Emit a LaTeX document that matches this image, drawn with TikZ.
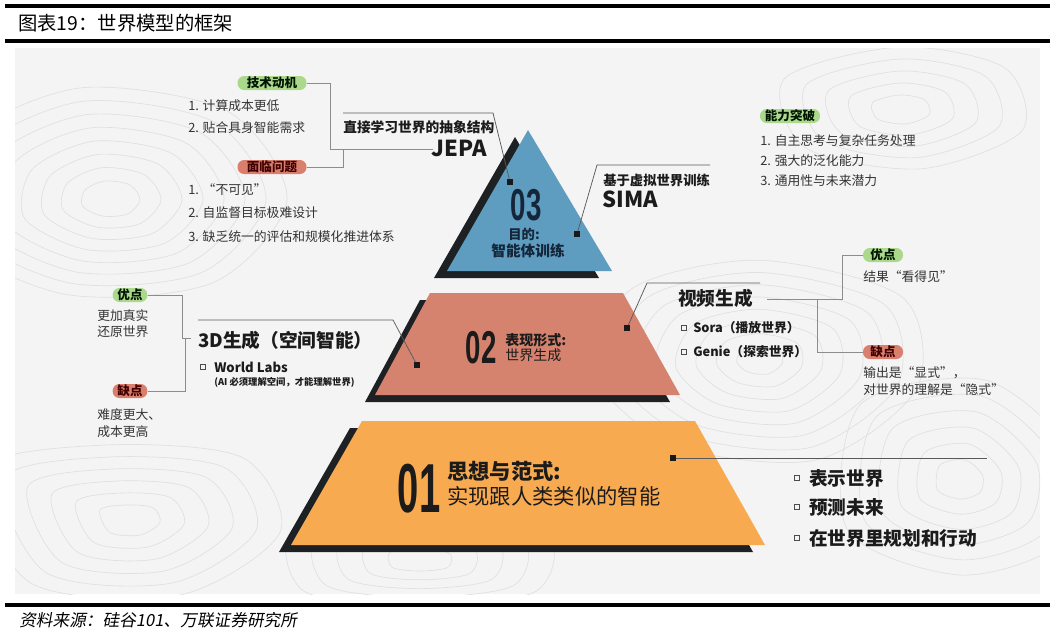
\documentclass[tikz,border=0pt]{standalone}
\usepackage{graphicx}
\usepackage{fontspec}
\setmainfont{Noto Sans CJK SC}
\newfontfamily\numfont{Liberation Sans}
\newfontfamily\slantcjk{Noto Sans CJK SC}[FakeSlant=0.18]
\usetikzlibrary{calc}
\newcommand\myfs[1]{\fontsize{#1}{#1}\selectfont}
\definecolor{bgpanel}{HTML}{F4F4F4}
\definecolor{contourc}{HTML}{E0E0E0}
\definecolor{shadowc}{HTML}{1E2124}
\definecolor{tierblue}{HTML}{5E9DC0}
\definecolor{tiersalmon}{HTML}{D5826F}
\definecolor{tierorange}{HTML}{F8AA50}
\definecolor{pillgreen}{HTML}{ABD98C}
\definecolor{pillred}{HTML}{DA7F6E}
\definecolor{linec}{HTML}{8C8C8C}
\definecolor{textc}{HTML}{333333}
\definecolor{navy}{HTML}{15263A}
\definecolor{darkt}{HTML}{1B1B1B}
\tikzset{
  lbl/.style={inner sep=0pt, text=textc, font=\myfs{9.6}},
  head/.style={inner sep=0pt, text=darkt, font=\bfseries\myfs{14}},
  sub/.style={inner sep=0pt, text=darkt, font=\bfseries\myfs{9.6}},
  bignum/.style={inner sep=0pt, anchor=base, text depth=0pt},
  pill/.style={rounded corners=5pt, inner sep=0pt, minimum height=10.5pt, font=\bfseries\myfs{9.4}},
  pillg/.style={pill, fill=pillgreen, text=black!80!green!40!black},
  pillr/.style={pill, fill=pillred, text=black!75!red},
  conn/.style={draw=linec, line width=0.7pt},
  mconn/.style={draw=black!65, line width=0.55pt},
  mk/.style={fill=black!90, minimum size=4pt, inner sep=0pt},
  bsq/.style={draw=black!70, line width=0.6pt, minimum size=4.2pt, inner sep=0pt},
  contour/.style={draw=contourc, line width=0.5pt},
  rule/.style={line width=2.3pt, black}
}
\begin{document}
\begin{tikzpicture}[x=0.75pt,y=-0.75pt]
\useasboundingbox (0,0) rectangle (1055,637);
\fill[white] (0,0) rectangle (1055,637);
% header and footer
\draw[rule] (5,6) -- (1050,6);
\draw[rule] (5,41) -- (1050,41);
\draw[rule] (5,605) -- (1050,605);
\node[anchor=west, inner sep=0pt, font=\myfs{14.5}] (title) at (18,23) {图表19：世界模型的框架};
\node[anchor=west, inner sep=0pt, font=\slantcjk\myfs{12.5}] (source) at (19,620) {资料来源：硅谷101、万联证券研究所};
% panel
\fill[bgpanel] (15,48) rectangle (1040,594);
\begin{scope}
\clip (15,48) rectangle (1040,594);
\foreach \s in {0.5,0.85,...,3.0}
  \draw[contour, shift={(110,200)}, scale=\s] plot[smooth cycle] coordinates {(-50,-20) (-10,-38) (40,-30) (60,0) (35,28) (-15,32) (-55,12)};
\foreach \s in {0.4,0.75,...,3.2}
  \draw[contour, shift={(760,360)}, scale=\s] plot[smooth cycle] coordinates {(-45,-25) (0,-35) (50,-22) (55,10) (20,35) (-30,30) (-58,5)};
\foreach \s in {0.5,0.9,...,2.6}
  \draw[contour, shift={(960,480)}, scale=\s] plot[smooth cycle] coordinates {(-40,-30) (10,-40) (45,-10) (40,25) (0,38) (-45,20)};
\foreach \s in {0.5,0.9,...,2.6}
  \draw[contour, shift={(130,520)}, scale=\s] plot[smooth cycle] coordinates {(-60,-20) (-10,-30) (45,-25) (60,5) (20,30) (-40,25)};
\foreach \s in {0.5,0.9,...,2.4}
  \draw[contour, shift={(900,110)}, scale=\s] plot[smooth cycle] coordinates {(-55,-15) (0,-30) (50,-20) (58,10) (10,28) (-45,18)};
\foreach \s in {0.5,0.9,...,2.2}
  \draw[contour, shift={(420,560)}, scale=\s] plot[smooth cycle] coordinates {(-60,-15) (0,-25) (60,-12) (55,15) (0,22) (-55,15)};
\end{scope}
% tier 3
\fill[shadowc] (515,137) -- (434,278) -- (599,278) -- cycle;
\fill[tierblue] (528,130) -- (447,271) -- (612,271) -- cycle;
% tier 2
\fill[shadowc] (420,300) -- (612,300) -- (670,402) -- (365,402) -- cycle;
\fill[tiersalmon] (430,293) -- (623,293) -- (680,395) -- (375,395) -- cycle;
% tier 1
\fill[shadowc] (350,428) -- (683,428) -- (753,552) -- (279,552) -- cycle;
\fill[tierorange] (362,421) -- (695,421) -- (765,545) -- (291,545) -- cycle;
% markers
\node[mk] (m3a) at (510,182) {};
\node[mk] (m3b) at (577,234) {};
\node[mk] (m2a) at (417,365) {};
\node[mk] (m2b) at (627,328) {};
\node[mk] (m1) at (673,458) {};
% tier texts
\node[bignum, text=navy] (n03) at (526,220) {\scalebox{0.62}[1]{\numfont\bfseries\myfs{33.5}03}};
\node[inner sep=0pt, text=navy, font=\bfseries\myfs{10}] (goal) at (524,234) {目的:};
\node[inner sep=0pt, text=navy, font=\bfseries\myfs{11}] (agent) at (528,251) {智能体训练};
\node[bignum, text=darkt] (n02) at (481,363) {\scalebox{0.6}[1]{\numfont\bfseries\myfs{34.5}02}};
\node[anchor=west, inner sep=0pt, text=darkt, font=\bfseries\myfs{10.5}] (form) at (505,340) {表现形式:};
\node[anchor=west, inner sep=0pt, text=darkt, font=\myfs{10.5}] (wgen) at (505,355) {世界生成};
\node[bignum, text=darkt] (n01) at (419,512) {\scalebox{0.55}[1]{\numfont\bfseries\myfs{52}01}};
\node[anchor=west, inner sep=0pt, text=darkt, font=\bfseries\myfs{16}] (idea) at (447,471) {思想与范式:};
\node[anchor=west, inner sep=0pt, text=darkt, font=\myfs{16}] (human) at (447,496) {实现跟人类类似的智能};
% JEPA label
\coordinate (jepaK) at (493,113);
\coordinate (jepaL) at (343,113);
\draw[mconn] (m3a) -- (jepaK) -- (jepaL);
\node[anchor=west, sub, font=\bfseries\myfs{10.3}] (jepatxt) at (343,127) {直接学习世界的抽象结构};
\node[anchor=east, inner sep=0pt, text=darkt, font=\bfseries\myfs{16.5}] (jepa) at (487,148) {JEPA};
\coordinate (jline) at (433,149);
% top-left notes
\node[pillg, minimum width=51.75pt] (pmot) at (272,83) {技术动机};
\node[lbl, anchor=west] (mot1) at (188,106) {1. 计算成本更低};
\node[lbl, anchor=west] (mot2) at (188,128) {2. 贴合具身智能需求};
\node[pillr, minimum width=51.75pt] (pprob) at (272,167) {面临问题};
\node[lbl, anchor=west] (prob1) at (188,190) {1. “不可见”};
\node[lbl, anchor=west] (prob2) at (188,213) {2. 自监督目标极难设计};
\node[lbl, anchor=west] (prob3) at (188,237) {3. 缺乏统一的评估和规模化推进体系};
\draw[conn] (pmot.east) -- (330,83) -- (330,149) -- (jline);
\draw[conn] (pprob.east) -- (343,167) -- (343,149);
% SIMA label
\coordinate (simaK) at (597,165);
\coordinate (simaR) at (710,165);
\draw[mconn] (m3b) -- (simaK) -- (simaR);
\node[anchor=west, sub, font=\bfseries\myfs{10}] (simatxt) at (603,180) {基于虚拟世界训练};
\node[anchor=west, inner sep=0pt, text=darkt, font=\bfseries\myfs{16.5}] (sima) at (602,199) {SIMA};
% top-right notes
\node[pillg, minimum width=45pt] (pcap) at (790,116) {能力突破};
\node[lbl, anchor=west] (cap1) at (760,141) {1. 自主思考与复杂任务处理};
\node[lbl, anchor=west] (cap2) at (760,161) {2. 强大的泛化能力};
\node[lbl, anchor=west] (cap3) at (760,181) {3. 通用性与未来潜力};
% 3D label
\coordinate (d3K) at (393,320);
\coordinate (d3L) at (198,320);
\draw[mconn] (m2a) -- (d3K) -- (d3L);
\node[head, anchor=west] (d3) at (198,340) {3D生成（空间智能）};
\node[bsq] (sqwl) at (203,367) {};
\node[sub, anchor=west, font=\bfseries\myfs{9.8}] (wl) at (214,367) {World Labs};
\node[sub, anchor=west, font=\bfseries\myfs{7}] (wlnote) at (214,382) {(AI 必须理解空间，才能理解世界)};
% left middle notes
\node[pillg, minimum width=26pt] (pgood3) at (130,295) {优点};
\node[lbl, anchor=west] (good3a) at (97,316) {更加真实};
\node[lbl, anchor=west] (good3b) at (97,332) {还原世界};
\node[pillr, minimum width=26pt] (pbad3) at (130,391) {缺点};
\node[lbl, anchor=west] (bad3a) at (97,415) {难度更大、};
\node[lbl, anchor=west] (bad3b) at (97,432) {成本更高};
\draw[conn] (pgood3.east) -- (182,295) -- (182,338) -- (191,338);
\draw[conn] (pbad3.east) -- (185,391) -- (185,338);
% video label
\coordinate (vK) at (647,283);
\coordinate (vR) at (760,283);
\draw[mconn] (m2b) -- (vK) -- (vR);
\node[head, anchor=west] (video) at (678,298) {视频生成};
\node[bsq] (sqsora) at (684,328) {};
\node[sub, anchor=west] (sora) at (693,328) {Sora（播放世界）};
\node[bsq] (sqgenie) at (684,352) {};
\node[sub, anchor=west] (genie) at (693,352) {Genie（探索世界）};
% right middle notes
\node[pillg, minimum width=30pt] (pgoodv) at (883,255) {优点};
\node[lbl, anchor=west] (goodv) at (863,277) {结果“看得见”};
\node[pillr, minimum width=30pt] (pbadv) at (883,352) {缺点};
\node[lbl, anchor=west] (badva) at (863,373) {输出是“显式”，};
\node[lbl, anchor=west] (badvb) at (863,390) {对世界的理解是“隐式”};
\draw[conn] (767,299) -- (842,299) -- (842,255) -- (pgoodv.west);
\draw[conn] (817,299) -- (817,352) -- (pbadv.west);
% tier 1 list
\coordinate (t1R) at (987,458);
\draw[mconn] (m1) -- (t1R);
\node[bsq] (sq1) at (797,478) {};
\node[head, anchor=west] (rep) at (809,478) {表示世界};
\node[bsq] (sq2) at (797,507) {};
\node[head, anchor=west] (pred) at (809,507) {预测未来};
\node[bsq] (sq3) at (797,538) {};
\node[head, anchor=west] (plan) at (809,538) {在世界里规划和行动};
\end{tikzpicture}
\end{document}
